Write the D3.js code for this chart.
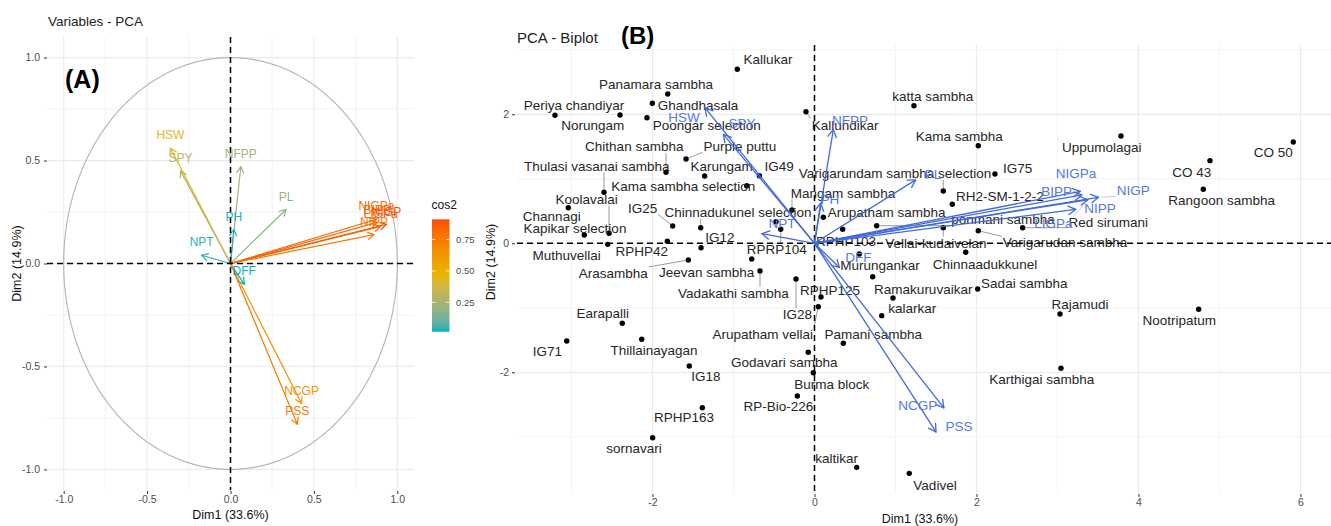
<!DOCTYPE html>
<html><head><meta charset="utf-8">
<script src="https://cdn.jsdelivr.net/npm/d3@7"></script>
<style>
body{margin:0;background:#fff}
svg{font-family:"Liberation Sans",Arial,Helvetica,sans-serif}
</style>
</head><body>
<svg id="chart" width="1331" height="526"></svg>
<script>
// ---------- DATA ----------
const varNames = ["HSW","SPY","NFPP","PL","PH","NPT","DFF","NCGP","PSS","NIGPa","BIPP","NIGP","LIGPa","NIPP"];
const varDim1  = [-0.36,-0.30,0.062,0.333,0.02,-0.173,0.082,0.426,0.40,0.875,0.88,0.935,0.90,0.86];
const varDim2  = [0.56,0.45,0.47,0.262,0.165,0.04,-0.10,-0.68,-0.78,0.215,0.20,0.19,0.18,0.14];
// repelled variable-label positions in the biplot (data units)
const varLabelDim1B = [-1.611,-0.895,0.438,1.463,0.191,-0.401,0.541,1.274,1.784,3.228,2.990,3.936,2.948,3.525];
const varLabelDim2B = [1.957,1.860,1.901,1.074,0.682,0.310,-0.217,-2.518,-2.843,1.085,0.811,0.826,0.310,0.543];

const indNames = ["Kallukar","Panamara sambha","Ghandhasala","Periya chandiyar","Norungam","Poongar selection","Purple puttu","Chithan sambha","Thulasi vasanai sambha","Karungam","IG49","Kama sambha selection","Mangam sambha","Chinnadukunel selection","IG25","Channagi","Koolavalai","Kapikar selection","Muthuvellai","RPHP42","IG12","RPRP104","Arasambha","Jeevan sambha","Vadakathi sambha","IG28","RPHP125","Arupatham vellai","Murungankar","Ramakuruvaikar","","kalarkar","Pamani sambha","Godavari sambha","Burma block","RP-Bio-226","kaltikar","Vadivel","IG18","Thillainayagan","IG71","Earapalli","RPHP163","sornavari","katta sambha","Kallundikar","Kama sambha","Uppumolagai","CO 50","CO 43","Rangoon sambha","IG75","Varigarundam sambha selection","RH2-SM-1-2-2","Arupatham sambha","ponmani sambha","Red sirumani","Varigarudan sambha","Vellai-kudaivelan","RPHP103","Chinnaadukkunel","Sadai sambha","Rajamudi","Nootripatum","Karthigai sambha",""];
const indDim1 = [-0.953,-1.812,-2.002,-3.204,-2.401,-2.068,-1.586,-1.833,-2.599,-1.356,-0.681,-0.837,-0.278,-1.405,-1.751,-3.040,-2.537,-2.842,-2.553,-1.817,-1.401,-0.417,-1.558,-0.775,-0.673,-0.228,0.080,0.047,0.553,0.719,0.969,0.830,0.356,-0.077,-0.015,-0.212,0.521,1.170,-1.546,-2.133,-3.059,-2.373,-1.385,-1.998,1.228,-0.105,2.022,3.784,5.911,4.883,4.800,2.228,1.590,1.701,0.109,0.768,2.570,2.022,1.590,0.348,1.867,2.015,3.031,4.743,3.043,-0.475];
const indDim2 = [2.698,2.315,2.171,1.984,1.989,1.947,1.307,1.101,0.791,1.043,1.048,0.893,0.516,0.242,0.268,0.552,0.155,0.129,-0.016,0.031,-0.068,0.217,-0.259,-0.243,-0.429,-0.553,-0.833,-0.983,-0.166,-0.518,-0.848,-1.122,-1.550,-1.690,-2.006,-2.367,-3.473,-3.566,-1.902,-1.488,-1.515,-1.240,-2.549,-3.014,2.133,2.040,1.513,1.664,1.571,1.281,0.837,1.074,0.811,0.605,0.403,0.273,0.242,0.195,0.242,0.217,-0.140,-0.709,-1.096,-1.023,-1.938,0.335];
// repelled label positions of individuals (data units)
const indLabelDim1 = [-0.574,-1.957,-1.438,-2.969,-2.738,-1.331,-0.920,-2.225,-2.689,-1.146,-0.435,-1.620,0.352,-0.944,-2.121,-3.244,-2.812,-2.957,-3.059,-2.133,-1.167,-0.467,-2.484,-1.331,-1.002,-0.212,0.191,-0.640,0.809,1.343,0,1.207,0.726,-0.373,0.212,-0.447,0.274,1.488,-1.340,-1.981,-3.299,-2.615,-1.611,-2.228,1.459,0.377,1.788,3.546,5.664,4.657,5.027,2.509,0.994,2.290,0.891,2.327,3.627,3.093,1.500,0.389,2.105,2.590,3.278,4.504,2.805,0];
const indLabelDim2 = [2.857,2.470,2.140,2.140,1.823,1.823,1.509,1.498,1.188,1.188,1.188,0.878,0.780,0.474,0.543,0.423,0.687,0.233,-0.181,-0.130,0.087,-0.093,-0.465,-0.445,-0.775,-1.101,-0.724,-1.406,-0.336,-0.713,0,-1.008,-1.406,-1.851,-2.181,-2.533,-3.333,-3.747,-2.068,-1.654,-1.681,-1.085,-2.704,-3.184,2.273,1.834,1.664,1.488,1.405,1.101,0.660,1.163,1.085,0.722,0.481,0.372,0.319,0.009,0.005,0.036,-0.321,-0.620,-0.941,-1.189,-2.109,0];

const ticksA = [-1,-0.5,0,0.5,1];
const minorA = [-0.75,-0.25,0.25,0.75];
const ticksBx = [-2,0,2,4,6];
const minorBx = [-3,-1,1,3,5];
const ticksBy = [-2,0,2];
const minorBy = [-3,-1,1,3];
const legendTicks = [0.25,0.5,0.75];
const gradientColours = ["#00AFBB","#E7B800","#FC4E07"];
const biplotScale = 3.75;

// ---------- SETUP ----------
const svg = d3.select("#chart");
const gridCol = "#EBEBEB", tickCol = "#4D4D4D";
const cos2 = varDim1.map((d,i)=>d*d+varDim2[i]*varDim2[i]);
const cmin = d3.min(cos2), cmax = d3.max(cos2);
const interp = d3.piecewise(d3.interpolateLab, gradientColours);
const cScale = d3.scaleLinear([cmin,cmax],[0,1]);
const colorFor = v => interp(cScale(v));

function arrow(g, x0,y0,x1,y1,color,w,len){
  g.append("line").attr("x1",x0).attr("y1",y0).attr("x2",x1).attr("y2",y1)
    .attr("stroke",color).attr("stroke-width",w);
  const a = Math.atan2(y1-y0,x1-x0);
  [Math.PI/6,-Math.PI/6].forEach(o=>{
    g.append("line").attr("x1",x1).attr("y1",y1)
      .attr("x2",x1-len*Math.cos(a+o)).attr("y2",y1-len*Math.sin(a+o))
      .attr("stroke",color).attr("stroke-width",w).attr("stroke-linecap","round");
  });
}

// ---------- PANEL A ----------
const xA = d3.scaleLinear([-1.1,1.1],[47,414]);
const yA = d3.scaleLinear([-1.1,1.1],[490,37]);
const gA = svg.append("g");
minorA.forEach(v=>{
  gA.append("line").attr("x1",xA(v)).attr("x2",xA(v)).attr("y1",37).attr("y2",490).attr("stroke",gridCol).attr("stroke-width",0.6);
  gA.append("line").attr("y1",yA(v)).attr("y2",yA(v)).attr("x1",47).attr("x2",414).attr("stroke",gridCol).attr("stroke-width",0.6);
});
ticksA.forEach(v=>{
  gA.append("line").attr("x1",xA(v)).attr("x2",xA(v)).attr("y1",37).attr("y2",490).attr("stroke",gridCol).attr("stroke-width",1.2);
  gA.append("line").attr("y1",yA(v)).attr("y2",yA(v)).attr("x1",47).attr("x2",414).attr("stroke",gridCol).attr("stroke-width",1.2);
});
const ang = d3.range(0,361).map(d=>d*Math.PI/180);
gA.append("path").attr("d",d3.line()(ang.map(a=>[xA(Math.cos(a)),yA(Math.sin(a))])))
  .attr("fill","none").attr("stroke","#B3B3B3").attr("stroke-width",1.1);
const fmt1 = d=>d.toFixed(1);
const axA_x = gA.append("g").attr("transform","translate(0,491)")
  .call(d3.axisBottom(xA).tickValues(ticksA).tickFormat(fmt1).tickSize(3).tickPadding(2));
const axA_y = gA.append("g").attr("transform","translate(47,0)")
  .call(d3.axisLeft(yA).tickValues(ticksA).tickFormat(fmt1).tickSize(3).tickPadding(4));
[axA_x,axA_y].forEach(a=>{a.select(".domain").remove();a.selectAll("line").attr("stroke","#333");
  a.selectAll("text").attr("fill",tickCol).attr("font-size",10.5).attr("font-family","Liberation Sans, Arial");});
const gArr = gA.append("g");
varNames.forEach((n,i)=>{
  arrow(gArr,xA(0),yA(0),xA(varDim1[i]),yA(varDim2[i]),colorFor(cos2[i]),1.2,7);
});
gA.append("line").attr("x1",xA(0)).attr("x2",xA(0)).attr("y1",37).attr("y2",490).attr("stroke","#000").attr("stroke-width",1.5).attr("stroke-dasharray","6,4");
gA.append("line").attr("y1",yA(0)).attr("y2",yA(0)).attr("x1",47).attr("x2",414).attr("stroke","#000").attr("stroke-width",1.5).attr("stroke-dasharray","6,4");
varNames.forEach((n,i)=>{
  gA.append("text").attr("x",xA(varDim1[i])).attr("y",yA(varDim2[i])-13).attr("dy","0.35em")
    .attr("text-anchor","middle").attr("font-size",12).attr("fill",colorFor(cos2[i])).text(n);
});
gA.append("text").attr("x",48).attr("y",26).attr("font-size",13.5).attr("fill","#222").text("Variables - PCA");
gA.append("text").attr("x",65).attr("y",88).attr("font-size",25).attr("font-weight","bold").attr("fill","#000").text("(A)");
gA.append("text").attr("x",230.5).attr("y",519).attr("text-anchor","middle").attr("font-size",12.5).attr("fill","#111").text("Dim1 (33.6%)");
gA.append("text").attr("transform","translate(21,263.5) rotate(-90)").attr("text-anchor","middle").attr("font-size",12.5).attr("fill","#111").text("Dim2 (14.9%)");
// legend
const defs = svg.append("defs");
const grad = defs.append("linearGradient").attr("id","cg").attr("x1",0).attr("y1",1).attr("x2",0).attr("y2",0);
d3.range(0,21).forEach(i=>{
  const v = cmin+(cmax-cmin)*i/20;
  grad.append("stop").attr("offset",i/20).attr("stop-color",colorFor(v));
});
const yL = d3.scaleLinear([cmin,cmax],[331.7,219.3]);
svg.append("rect").attr("x",432).attr("y",219.3).attr("width",17.5).attr("height",112.4).attr("fill","url(#cg)");
legendTicks.forEach(t=>{
  svg.append("line").attr("x1",432).attr("x2",435.5).attr("y1",yL(t)).attr("y2",yL(t)).attr("stroke","#fff").attr("stroke-width",0.8);
  svg.append("line").attr("x1",446).attr("x2",449.5).attr("y1",yL(t)).attr("y2",yL(t)).attr("stroke","#fff").attr("stroke-width",0.8);
  svg.append("text").attr("x",456).attr("y",yL(t)).attr("dy","0.35em").attr("font-size",9.5).attr("fill",tickCol).text(t.toFixed(2));
});
svg.append("text").attr("x",431.5).attr("y",209).attr("font-size",12).attr("fill","#111").text("cos2");

// ---------- PANEL B ----------
const xB = d3.scaleLinear([-3.673,6.377],[517,1331]);
const yB = d3.scaleLinear([-3.871,3.074],[493,45]);
const gB = svg.append("g");
minorBx.forEach(v=>gB.append("line").attr("x1",xB(v)).attr("x2",xB(v)).attr("y1",45).attr("y2",493).attr("stroke",gridCol).attr("stroke-width",0.6));
minorBy.forEach(v=>gB.append("line").attr("y1",yB(v)).attr("y2",yB(v)).attr("x1",517).attr("x2",1331).attr("stroke",gridCol).attr("stroke-width",0.6));
ticksBx.forEach(v=>gB.append("line").attr("x1",xB(v)).attr("x2",xB(v)).attr("y1",45).attr("y2",493).attr("stroke",gridCol).attr("stroke-width",1.2));
ticksBy.forEach(v=>gB.append("line").attr("y1",yB(v)).attr("y2",yB(v)).attr("x1",517).attr("x2",1331).attr("stroke",gridCol).attr("stroke-width",1.2));
const axB_x = gB.append("g").attr("transform","translate(0,494)")
  .call(d3.axisBottom(xB).tickValues(ticksBx).tickFormat(d=>String(d)).tickSize(3).tickPadding(2));
const axB_y = gB.append("g").attr("transform","translate(515,0)")
  .call(d3.axisLeft(yB).tickValues(ticksBy).tickFormat(d=>String(d)).tickSize(3).tickPadding(3));
[axB_x,axB_y].forEach(a=>{a.select(".domain").remove();a.selectAll("line").attr("stroke","#333");
  a.selectAll("text").attr("fill",tickCol).attr("font-size",10.5).attr("font-family","Liberation Sans, Arial");});

const indFont = 13.5;
const gSeg = gB.append("g"), gPts = gB.append("g"), gLab = gB.append("g");
function boxSegment(gs, px,py, lx,ly, w,h, color, thr){
  const x0=lx-w/2-1, x1=lx+w/2+1, y0=ly-h/2-1, y1=ly+h/2+1;
  const cx=Math.max(x0,Math.min(px,x1)), cy=Math.max(y0,Math.min(py,y1));
  const d=Math.hypot(px-cx,py-cy);
  if(d>thr){
    gs.append("line").attr("x1",px+(cx-px)*(3/d)).attr("y1",py+(cy-py)*(3/d))
      .attr("x2",cx).attr("y2",cy)
      .attr("stroke",color).attr("stroke-width",0.6);
  }
}
indNames.forEach((n,i)=>{
  const px=xB(indDim1[i]), py=yB(indDim2[i]);
  gPts.append("circle").attr("cx",px).attr("cy",py).attr("r",2.7).attr("fill","#000");
  if(n){
    const lx=xB(indLabelDim1[i]), ly=yB(indLabelDim2[i]);
    const t=gLab.append("text").attr("x",lx).attr("y",ly).attr("dy","0.35em").attr("text-anchor","middle")
      .attr("font-size",indFont).attr("fill","#262626").text(n);
    const w=t.node().getComputedTextLength();
    boxSegment(gSeg,px,py,lx,ly,w,indFont*0.8,"#555",8);
  }
});
gB.append("line").attr("x1",xB(0)).attr("x2",xB(0)).attr("y1",45).attr("y2",493).attr("stroke","#000").attr("stroke-width",1.5).attr("stroke-dasharray","6,4");
gB.append("line").attr("y1",yB(0)).attr("y2",yB(0)).attr("x1",517).attr("x2",1331).attr("stroke","#000").attr("stroke-width",1.5).attr("stroke-dasharray","6,4");
const blue = "#4169E1";
const gVA = gB.append("g"), gVS = gB.append("g"), gVL = gB.append("g");
varNames.forEach((n,i)=>{
  const tx=xB(varDim1[i]*biplotScale), ty=yB(varDim2[i]*biplotScale);
  arrow(gVA,xB(0),yB(0),tx,ty,blue,1.3,8.5);
  const lx=xB(varLabelDim1B[i]), ly=yB(varLabelDim2B[i]);
  const t=gVL.append("text").attr("x",lx).attr("y",ly).attr("dy","0.35em").attr("text-anchor","middle")
    .attr("font-size",13.5).attr("fill","#5577E8").text(n);
  const w=t.node().getComputedTextLength();
  boxSegment(gVS,tx,ty,lx,ly,w,11,"#8FA6F0",14);
});
gB.append("text").attr("x",517).attr("y",43).attr("font-size",15).attr("fill","#222").text("PCA - Biplot");
gB.append("text").attr("x",621).attr("y",44).attr("font-size",24).attr("font-weight","bold").attr("fill","#000").text("(B)");
gB.append("text").attr("x",920).attr("y",523).attr("text-anchor","middle").attr("font-size",12.5).attr("fill","#111").text("Dim1 (33.6%)");
gB.append("text").attr("transform","translate(495,262) rotate(-90)").attr("text-anchor","middle").attr("font-size",12.5).attr("fill","#111").text("Dim2 (14.9%)");
</script>
</body></html>
